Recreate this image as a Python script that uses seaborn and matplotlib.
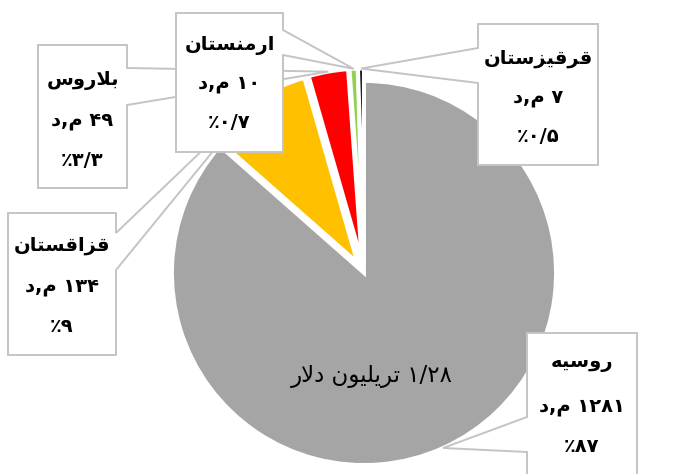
import re
import matplotlib
matplotlib.use("Agg")
import matplotlib.pyplot as plt
from matplotlib.patches import Polygon
import seaborn as sns
import numpy as np

# ---------------- data ----------------
countries = ["روسیه", "قزاقستان", "بلاروس", "ارمنستان", "قرقیزستان"]
values = [1281, 134, 49, 10, 7]              # billion dollars
percents = ["87", "9", "3/3", "0/7", "0/5"]   # shown shares (Persian decimal sign '/')
unit = "م,د"
center_label = "1/28 تریلیون دلار"
colors = ["#A5A5A5", "#FFC000", "#FF0000", "#92D050", "#000000"]

# ---------------- minimal Arabic/Persian shaping ----------------
FORMS = {
    'ا': ('\uFE8D', '\uFE8E', None, None),
    'ب': ('\uFE8F', '\uFE90', '\uFE91', '\uFE92'),
    'ت': ('\uFE95', '\uFE96', '\uFE97', '\uFE98'),
    'د': ('\uFEA9', '\uFEAA', None, None),
    'ر': ('\uFEAD', '\uFEAE', None, None),
    'ز': ('\uFEAF', '\uFEB0', None, None),
    'س': ('\uFEB1', '\uFEB2', '\uFEB3', '\uFEB4'),
    'ق': ('\uFED5', '\uFED6', '\uFED7', '\uFED8'),
    'ل': ('\uFEDD', '\uFEDE', '\uFEDF', '\uFEE0'),
    'م': ('\uFEE1', '\uFEE2', '\uFEE3', '\uFEE4'),
    'ن': ('\uFEE5', '\uFEE6', '\uFEE7', '\uFEE8'),
    'و': ('\uFEED', '\uFEEE', None, None),
    'ه': ('\uFEE9', '\uFEEA', '\uFEEB', '\uFEEC'),
    'ی': ('\uFEEF', '\uFEF0', '\uFEF3', '\uFEF4'),
    'LA': ('\uFEFB', '\uFEFC', None, None),
}
FA_DIGITS = str.maketrans("0123456789", "۰۱۲۳۴۵۶۷۸۹")


def shape(text):
    units = []
    i = 0
    while i < len(text):
        if text[i] == 'ل' and i + 1 < len(text) and text[i + 1] == 'ا':
            units.append('LA')
            i += 2
        else:
            units.append(text[i])
            i += 1
    out = []
    for k, u in enumerate(units):
        if u not in FORMS:
            out.append(u)
            continue
        prev = units[k - 1] if k > 0 else None
        nxt = units[k + 1] if k + 1 < len(units) else None
        jp = prev in FORMS and FORMS[prev][2] is not None
        jn = FORMS[u][2] is not None and nxt in FORMS
        f = FORMS[u]
        if jp and jn:
            out.append(f[3])
        elif jp:
            out.append(f[1])
        elif jn:
            out.append(f[2])
        else:
            out.append(f[0])
    return ''.join(out)


def rtl(text):
    text = shape(text.translate(FA_DIGITS))
    runs = re.findall(r'[۰-۹]+(?:/[۰-۹]+)*|[^۰-۹]+', text)
    return ''.join(r if r[0] in "۰۱۲۳۴۵۶۷۸۹" else r[::-1] for r in reversed(runs))


# ---------------- figure ----------------
sns.set_theme(style="white")
plt.rcParams['font.family'] = ['DejaVu Sans']
W, H = 673, 474
fig = plt.figure(figsize=(W / 100, H / 100), dpi=100)
fig.patch.set_facecolor("white")

cx, cy, R = 364, 273, 192
ax = fig.add_axes([(cx - R) / W, (H - cy - R) / H, 2 * R / W, 2 * R / H])
explode = [0, 0.065, 0.065, 0.065, 0.065]
wedges, _ = ax.pie(values, colors=colors, startangle=90, counterclock=False,
                   explode=explode,
                   wedgeprops=dict(edgecolor="white", linewidth=2.8))
ax.set_xlim(-1, 1)
ax.set_ylim(-1, 1)
ax.text(0.04, -0.54, rtl(center_label), ha="center", va="center",
        fontsize=16.5, color="black")

ov = fig.add_axes([0, 0, 1, 1])
ov.set_xlim(0, W)
ov.set_ylim(H, 0)
ov.axis("off")
ov.patch.set_alpha(0)


def tip_of(w):
    th = np.deg2rad((w.theta1 + w.theta2) / 2)
    x = w.center[0] + w.r * np.cos(th)
    y = w.center[1] + w.r * np.sin(th)
    px, py = ax.transData.transform((x, y))
    return px, H - py


# box: (x0, y0, x1, y1), pointer side, base a, base b, text rows y
boxes = {
    0: ((527, 333, 637, 520), 'left', 417, 452, (363, 406, 447)),
    4: ((478, 24, 598, 165), 'left', 48, 83, (58, 97, 137)),
    1: ((8, 213, 116, 355), 'right', 233, 270, (245, 287, 327)),
    2: ((38, 45, 127, 188), 'right', 68, 105, (80, 120, 160)),
    3: ((176, 13, 283, 152), 'right', 30, 55, (45, 83, 122)),
}
order = [0, 4, 1, 2, 3]
for z, i in enumerate(order):
    (x0, y0, x1, y1), side, a, b, rows = boxes[i]
    tx, ty = tip_of(wedges[i])
    if side == 'left':
        pts = [(x0, y0), (x1, y0), (x1, y1), (x0, y1), (x0, b), (tx, ty), (x0, a)]
    else:
        pts = [(x0, y0), (x1, y0), (x1, a), (tx, ty), (x1, b), (x1, y1), (x0, y1)]
    ov.add_patch(Polygon(pts, closed=True, facecolor="white", edgecolor="#C4C4C4",
                         linewidth=1.4, zorder=2 + 2 * z))
    lines = [countries[i], f"{values[i]} {unit}", f"{percents[i]}٪"]
    xc = (x0 + x1) / 2
    for yy, s in zip(rows, lines):
        ov.text(xc, yy, rtl(s), ha="center", va="center", fontsize=14,
                fontweight="bold", color="black", zorder=3 + 2 * z)

fig.savefig("out.png", dpi=100, facecolor="white")
